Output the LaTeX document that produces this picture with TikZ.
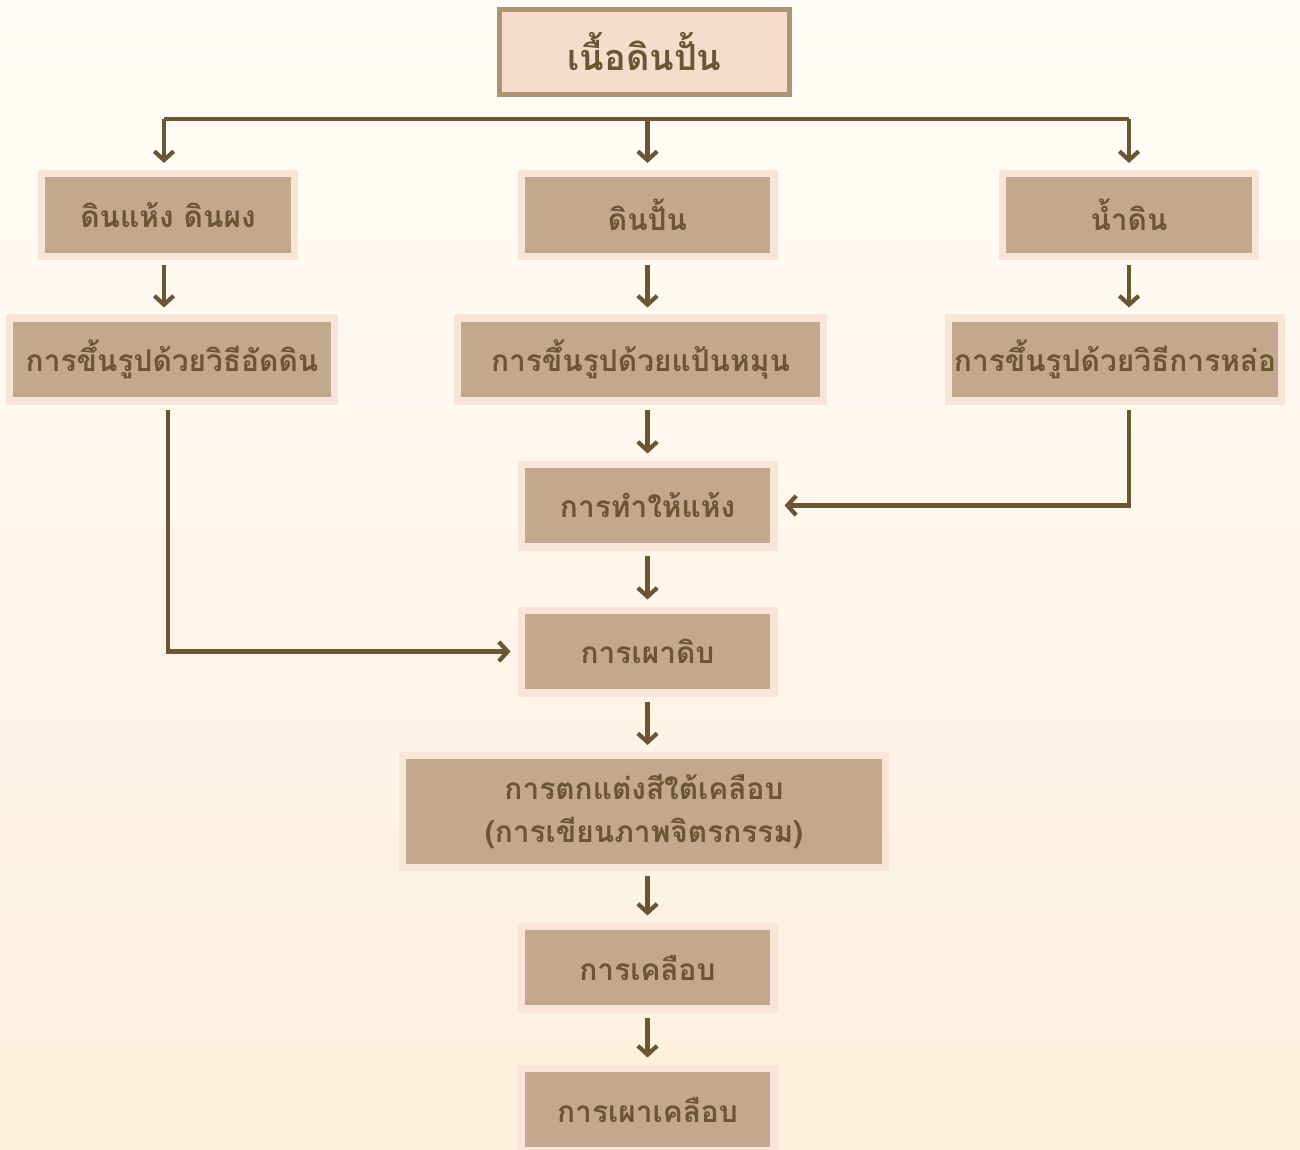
\documentclass[tikz,border=0pt]{standalone}
\usepackage{fontspec}
\usetikzlibrary{arrows.meta}
\newfontfamily\thaifont[Script=Thai]{Loma}
\definecolor{bgtop}{HTML}{FFFCF7}
\definecolor{bgbot}{HTML}{FDF0DC}
\definecolor{boxfill}{HTML}{C2A98E}
\definecolor{boxrim}{HTML}{F8E5D8}
\definecolor{topfill}{HTML}{F5DCCC}
\definecolor{toprim}{HTML}{B09373}
\definecolor{ink}{HTML}{6B5533}

\begin{document}
\begin{tikzpicture}[x=0.02cm,y=-0.02cm,
    >={Straight Barb[length=5pt,width=11pt]},
    stepbox/.style={draw=boxrim,line width=4pt,fill=boxfill,text=ink,
        font=\thaifont\bfseries\fontsize{17}{24}\selectfont,align=center,
        minimum width=5.06cm,minimum height=1.66cm,inner sep=0pt},
    topbox/.style={stepbox,draw=toprim,line width=3pt,fill=topfill,
        font=\thaifont\bfseries\fontsize{20.5}{24}\selectfont,
        minimum width=5.8cm,minimum height=1.7cm},
    flow/.style={->,draw=ink,line width=2.4pt,shorten >=4pt}]
    % background
    \shade[top color=bgtop,bottom color=bgbot] (0,0) rectangle (1300,1149);
    \useasboundingbox (0,0) rectangle (1300,1149);
    % nodes
    \node[topbox] (clay) at (644.5,52) {เนื้อดินปั้น};
    \node[stepbox] (dry) at (168,215) {ดินแห้ง ดินผง};
    \node[stepbox] (plastic) at (647.5,215) {ดินปั้น};
    \node[stepbox] (slip) at (1129,215) {น้ำดิน};
    \node[stepbox,minimum width=6.5cm] (press) at (172,359.5) {การขึ้นรูปด้วยวิธีอัดดิน};
    \node[stepbox,minimum width=7.32cm] (wheel) at (640.5,359.5) {การขึ้นรูปด้วยแป้นหมุน};
    \node[stepbox,minimum width=6.66cm] (cast) at (1115,359.5) {การขึ้นรูปด้วยวิธีการหล่อ};
    \node[stepbox] (drying) at (647.5,505.5) {การทำให้แห้ง};
    \node[stepbox] (bisque) at (647.5,651.5) {การเผาดิบ};
    \node[stepbox,minimum width=9.66cm,minimum height=2.24cm] (paint) at (644,811.5)
        {การตกแต่งสีใต้เคลือบ\\(การเขียนภาพจิตรกรรม)};
    \node[stepbox] (glaze) at (647.5,967.5) {การเคลือบ};
    \node[stepbox] (glost) at (647.5,1109.5) {การเผาเคลือบ};
    % bus under the top box
    \coordinate (busL) at (164,119);
    \coordinate (busR) at (1129,119);
    \draw[ink,line width=2.4pt] (busL) -- (busR);
    \draw[flow] (busL) -- (busL |- dry.north) ;
    \draw[flow] (plastic.north |- busL) -- (plastic.north);
    \draw[flow] (busR) -- (slip.north);
    % raw material to forming
    \draw[flow] ([yshift=-3pt]busL |- dry.south) -- (busL |- press.north);
    \draw[flow] ([yshift=-3pt]plastic.south) -- (plastic.south |- wheel.north);
    \draw[flow] ([yshift=-3pt]slip.south) -- (slip.south |- cast.north);
    % forming to drying / firing
    \draw[flow] ([yshift=-3pt]plastic.south |- wheel.south) -- (drying.north);
    \draw[flow] ([yshift=-3pt]slip.south |- cast.south) |- (drying.east);
    \draw[flow] ([xshift=-2.3pt,yshift=-3pt]press.south) |- (bisque.west);
    \draw[flow] ([yshift=-3pt]drying.south) -- (bisque.north);
    \draw[flow] ([yshift=-3pt]bisque.south) -- (bisque.south |- paint.north);
    \draw[flow] ([yshift=-3pt]glaze.north |- paint.south) -- (glaze.north);
    \draw[flow] ([yshift=-3pt]glaze.south) -- (glost.north);
\end{tikzpicture}
\end{document}
